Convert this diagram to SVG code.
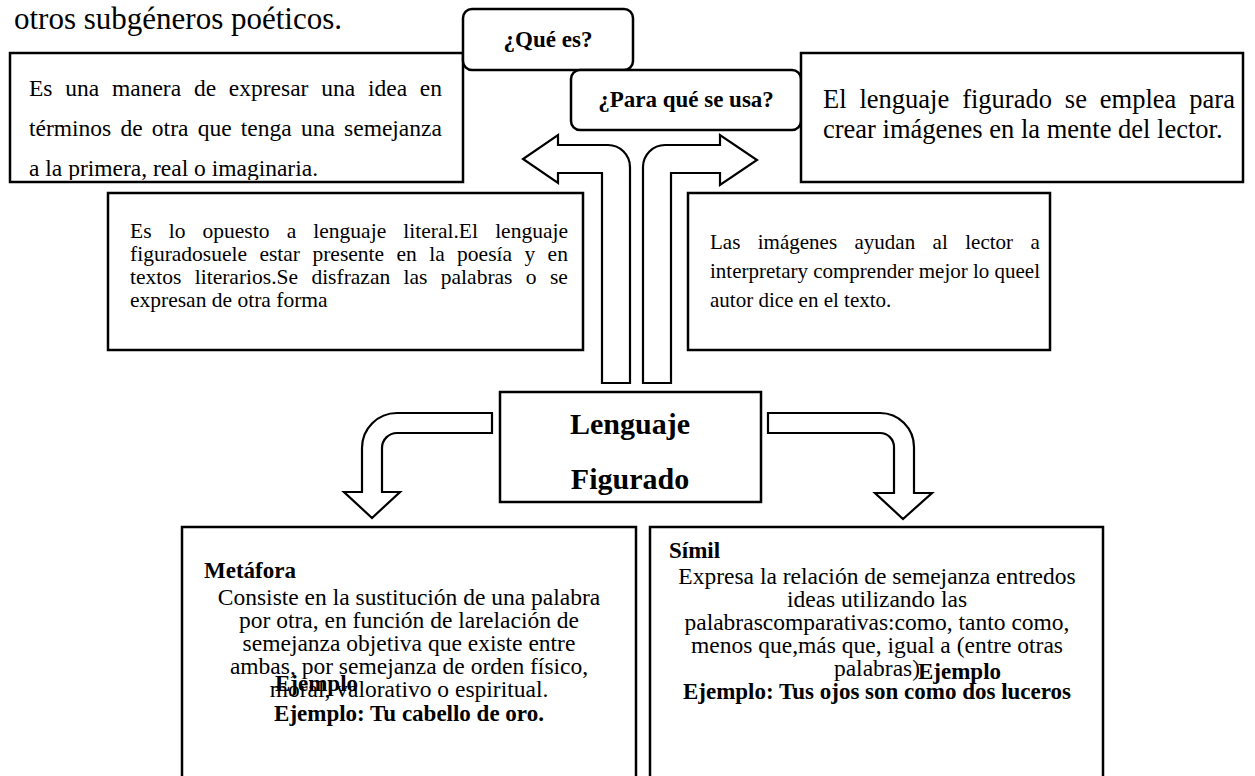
<svg xmlns="http://www.w3.org/2000/svg" width="1255" height="776" viewBox="0 0 1255 776">
<style>
.box{fill:#fff;stroke:#000;stroke-width:2.5}
.rbox{fill:#fff;stroke:#000;stroke-width:2.5}
.arrow{fill:#fff;stroke:#000;stroke-width:2.2;stroke-linejoin:miter}
.t{font-family:"Liberation Serif","Times New Roman",serif;fill:#000}
.b{font-weight:bold}
.c{text-anchor:middle}
</style>
<defs>
<clipPath id="clipA"><rect x="10" y="53" width="453" height="127"/></clipPath>
</defs>
<rect width="1255" height="776" fill="#fff"/>
<text class="t" x="14" y="29" font-size="31">otros subgéneros poéticos.</text>

<g id="connectors">
<path class="arrow" d="M602,383 L602,173 L558,173 L558,183 L523,159 L558,135 L558,145 L608,145 A22,22 0 0 1 630,167 L630,383 Z"/>
<path class="arrow" d="M671,383 L671,173 L720,173 L720,185 L757,160 L720,135 L720,145 L665,145 A22,22 0 0 0 643,167 L643,383 Z"/>
<path class="arrow" d="M492,413 L397,413 A35,35 0 0 0 362,448 L362,492 L344,492 L372,518 L400,492 L382,492 L382,448 A15,15 0 0 1 397,433 L492,433 Z"/>
<path class="arrow" d="M768,413 L880,413 A34,34 0 0 1 914,447 L914,493 L932,493 L903,519 L875,493 L894,493 L894,447 A14,14 0 0 0 880,433 L768,433 Z"/>
</g>

<g id="def-box">
<rect class="box" x="10" y="53" width="453" height="129"/>
<g clip-path="url(#clipA)" class="t" font-size="23.5">
<text x="29" y="96" word-spacing="6.9">Es una manera de expresar una idea en</text>
<text x="29" y="136" word-spacing="3.35">términos de otra que tenga una semejanza</text>
<text x="29" y="176">a la primera, real o imaginaria.</text>
</g>
</g>

<g id="que-es">
<rect class="rbox" x="463" y="9" width="170" height="61" rx="9"/>
<text class="t b c" x="548" y="47" font-size="23">¿Qué es?</text>
</g>

<g id="para-que">
<rect class="rbox" x="571" y="70" width="230" height="60" rx="9"/>
<text class="t b c" x="686" y="107" font-size="23">¿Para qué se usa?</text>
</g>

<g id="uso-box">
<rect class="box" x="801" y="53" width="442" height="129"/>
<g class="t" font-size="26.5">
<text x="823" y="108" word-spacing="6.3">El lenguaje figurado se emplea para</text>
<text x="823" y="138">crear imágenes en la mente del lector.</text>
</g>
</g>

<g id="opuesto-box">
<rect class="box" x="108" y="193" width="475" height="157"/>
<g class="t" font-size="21.5">
<text x="130" y="238" word-spacing="11.8">Es lo opuesto a lenguaje literal.El lenguaje</text>
<text x="130" y="261" word-spacing="7.04">figuradosuele estar presente en la poesía y en</text>
<text x="130" y="284" word-spacing="8">textos literarios.Se disfrazan las palabras o se</text>
<text x="130" y="307">expresan de otra forma</text>
</g>
</g>

<g id="imagenes-box">
<rect class="box" x="688" y="193" width="362" height="157"/>
<g class="t" font-size="21">
<text x="710" y="249" word-spacing="12.2">Las imágenes ayudan al lector a</text>
<text x="710" y="278">interpretary comprender mejor lo queel</text>
<text x="710" y="307">autor dice en el texto.</text>
</g>
</g>

<g id="central">
<rect class="box" x="500" y="392" width="261" height="110"/>
<text class="t b c" x="630" y="434" font-size="30">Lenguaje</text>
<text class="t b c" x="630" y="489" font-size="30">Figurado</text>
</g>

<g id="metafora">
<rect class="box" x="182" y="527" width="454" height="270"/>
<text class="t b" x="204" y="578" font-size="23">Metáfora</text>
<g class="t c" font-size="23.5">
<text x="409" y="605">Consiste en la sustitución de una palabra</text>
<text x="409" y="628">por otra, en función de larelación de</text>
<text x="409" y="651">semejanza objetiva que existe entre</text>
<text x="409" y="674">ambas, por semejanza de orden físico,</text>
<text x="409" y="697">moral, valorativo o espiritual.</text>
</g>
<text class="t b" x="275" y="691" font-size="23">Ejemplo</text>
<text class="t b c" x="409" y="721" font-size="23">Ejemplo: Tu cabello de oro.</text>
</g>

<g id="simil">
<rect class="box" x="650" y="527" width="453" height="270"/>
<text class="t b" x="669" y="558" font-size="23">Símil</text>
<g class="t c" font-size="23.5">
<text x="877" y="584">Expresa la relación de semejanza entredos</text>
<text x="877" y="607">ideas utilizando las</text>
<text x="877" y="630">palabrascomparativas:como, tanto como,</text>
<text x="877" y="653">menos que,más que, igual a (entre otras</text>
<text x="877" y="676">palabras)</text>
</g>
<text class="t b" x="918" y="679" font-size="23">Ejemplo</text>
<text class="t b c" x="877" y="699" font-size="23">Ejemplo: Tus ojos son como dos luceros</text>
</g>
</svg>
